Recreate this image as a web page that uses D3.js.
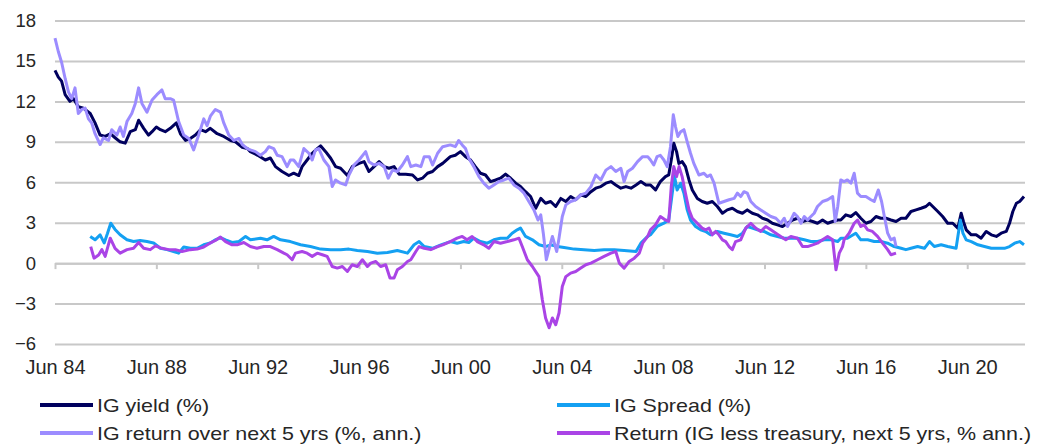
<!DOCTYPE html>
<html>
<head>
<meta charset="utf-8">
<script src="https://cdn.jsdelivr.net/npm/d3@7"></script>
<style>
  body { margin: 0; background: #fff; }
  text { font-family: "Liberation Sans", Arial, sans-serif; fill: #262626; }
</style>
</head>
<body>
<script>
// series, as [decimal year, value %]
var igYield = [[1984.50,14.3],[1984.63,13.8],[1984.76,13.5],[1984.90,12.5],[1985.09,12.0],[1985.23,12.2],[1985.42,11.6],[1985.62,11.5],[1985.89,11.1],[1986.08,10.4],[1986.28,9.5],[1986.48,9.4],[1986.68,9.6],[1986.87,9.3],[1987.07,9.0],[1987.27,8.9],[1987.47,9.75],[1987.67,9.9],[1987.80,10.6],[1988.00,10.0],[1988.19,9.5],[1988.33,9.75],[1988.50,10.1],[1988.66,9.9],[1988.85,9.75],[1989.05,10.0],[1989.29,10.4],[1989.45,9.6],[1989.65,9.1],[1989.84,9.25],[1990.04,9.5],[1990.24,9.9],[1990.44,9.75],[1990.63,10.0],[1990.90,9.6],[1991.16,9.4],[1991.43,9.1],[1991.62,9.0],[1991.89,8.6],[1992.09,8.5],
  [1992.21,8.27],[1992.50,8.0],[1992.80,7.65],[1993.00,7.8],[1993.20,7.16],[1993.46,6.8],[1993.73,6.5],[1993.92,6.67],[1994.12,6.5],[1994.25,7.16],[1994.45,7.65],[1994.65,8.15],[1994.85,8.5],[1994.98,8.7],[1995.18,8.27],[1995.38,7.78],[1995.57,7.16],[1995.77,7.04],[1996.04,6.5],[1996.23,7.16],[1996.50,7.4],[1996.70,7.53],[1996.89,6.8],[1997.09,7.16],[1997.29,7.53],[1997.49,7.16],[1997.68,7.04],[1997.88,7.16],[1998.08,6.6],[1998.34,6.6],[1998.61,6.54],[1998.81,6.17],[1999.00,6.3],[1999.20,6.67],[1999.40,6.8],[1999.60,7.16],[1999.80,7.4],
  [2000.10,7.9],[2000.30,8.0],[2000.50,8.27],[2000.70,7.9],[2000.90,7.65],[2001.09,7.16],[2001.29,6.67],[2001.49,6.54],[2001.69,6.05],[2001.89,6.17],[2002.08,6.3],[2002.28,6.6],[2002.48,6.3],[2002.68,5.93],[2002.87,5.68],[2003.07,5.3],[2003.27,4.94],[2003.47,4.07],[2003.67,4.8],[2003.86,4.44],[2004.06,4.57],[2004.26,4.2],[2004.46,4.8],[2004.66,4.57],[2004.85,4.94],[2005.05,4.7],[2005.25,5.06],[2005.45,4.94],[2005.65,5.3],[2005.84,5.56],[2006.04,5.68],[2006.24,5.93],[2006.44,6.05],[2006.63,5.8],[2006.83,5.56],[2007.03,5.68],[2007.23,5.56],[2007.43,5.8],[2007.62,6.05],[2007.82,5.8],
  [2008.00,5.8],[2008.20,5.43],[2008.39,6.05],[2008.59,6.42],[2008.72,6.54],[2008.82,7.65],[2008.92,8.9],[2009.03,8.27],[2009.12,7.4],[2009.25,7.53],[2009.38,7.16],[2009.52,6.17],[2009.65,5.43],[2009.85,4.8],[2010.04,4.57],[2010.24,4.44],[2010.44,4.57],[2010.64,4.2],[2010.84,3.7],[2011.03,3.95],[2011.23,4.07],[2011.43,3.83],[2011.63,3.7],[2011.82,3.95],[2012.02,3.7],[2012.22,3.58],[2012.42,3.33],[2012.62,3.2],[2012.81,2.96],[2013.01,2.84],[2013.21,2.72],[2013.41,2.96],[2013.61,3.2],[2013.80,3.33],[2014.00,3.09],[2014.20,3.2],[2014.40,3.09],[2014.59,2.96],[2014.79,3.2],[2014.99,2.96],[2015.19,3.09],[2015.39,3.2],
  [2015.51,3.2],[2015.71,3.58],[2015.91,3.46],[2016.10,3.75],[2016.30,3.33],[2016.50,2.96],[2016.70,3.09],[2016.90,3.46],[2017.09,3.33],[2017.29,3.33],[2017.49,3.2],[2017.69,3.09],[2017.89,3.33],[2018.08,3.33],[2018.28,3.83],[2018.48,3.95],[2018.68,4.07],[2018.87,4.2],[2019.01,4.44],[2019.14,4.2],[2019.34,3.83],[2019.53,3.46],[2019.73,2.96],[2019.93,2.96],[2020.13,2.6],[2020.26,3.7],[2020.35,3.09],[2020.46,2.47],[2020.66,2.1],[2020.85,2.1],[2021.05,1.85],[2021.25,2.35],[2021.45,2.1],[2021.65,1.98],[2021.84,2.22],[2022.04,2.35],[2022.17,2.96],[2022.30,3.83],[2022.44,4.44],[2022.57,4.57],[2022.63,4.7],[2022.74,4.94]];

var igSpread = [[1985.89,1.98],[1986.08,1.73],[1986.28,2.1],[1986.44,1.5],[1986.57,2.2],[1986.70,2.96],[1986.87,2.5],[1987.07,2.1],[1987.34,1.73],[1987.60,1.6],[1987.86,1.68],[1988.13,1.6],[1988.39,1.5],[1988.66,1.1],[1988.92,1.0],[1989.18,0.86],[1989.38,0.74],[1989.58,1.2],[1989.84,1.1],[1990.11,1.1],[1990.37,1.36],[1990.63,1.5],[1990.83,1.73],[1991.03,1.9],[1991.23,1.73],[1991.49,1.53],[1991.76,1.6],[1992.02,1.98],
  [1992.21,1.73],[1992.61,1.85],[1992.87,1.73],[1993.13,1.98],[1993.40,1.73],[1993.79,1.6],[1994.19,1.36],[1994.58,1.23],[1994.98,1.04],[1995.38,1.0],[1995.77,1.0],[1996.10,1.04],[1996.43,0.94],[1996.83,0.86],[1997.22,0.74],[1997.62,0.79],[1998.01,0.94],[1998.41,0.74],[1998.67,1.36],[1998.87,1.6],[1999.07,1.23],[1999.40,1.1],[1999.73,1.36],
  [2000.10,1.6],[2000.37,1.48],[2000.63,1.6],[2000.83,1.53],[2001.03,1.85],[2001.29,1.6],[2001.56,1.48],[2001.82,1.73],[2002.08,1.85],[2002.35,1.85],[2002.54,2.22],[2002.74,2.47],[2002.87,2.6],[2003.07,1.98],[2003.34,1.73],[2003.60,1.36],[2003.86,1.23],[2004.06,1.36],[2004.33,1.23],[2004.59,1.16],[2004.99,1.04],[2005.38,1.0],[2005.78,0.94],[2006.17,1.0],[2006.57,1.0],[2006.96,0.94],[2007.43,0.86],[2007.62,1.48],[2007.89,1.98],
  [2008.00,2.1],[2008.26,2.72],[2008.53,2.96],[2008.72,3.2],[2008.86,5.19],[2008.95,6.42],[2009.05,5.43],[2009.19,5.93],[2009.32,5.19],[2009.45,3.95],[2009.58,3.2],[2009.78,2.72],[2009.98,2.47],[2010.18,2.35],[2010.37,2.1],[2010.64,2.35],[2010.90,2.22],[2011.16,2.1],[2011.43,1.98],[2011.63,2.22],[2011.82,2.72],[2012.02,2.6],[2012.22,2.47],[2012.48,2.35],[2012.75,2.1],[2013.01,1.98],[2013.28,1.85],[2013.54,1.85],[2013.80,1.85],[2014.07,1.73],[2014.33,1.6],[2014.59,1.6],[2014.86,1.73],[2015.12,1.73],[2015.39,1.6],
  [2015.51,1.85],[2015.77,1.85],[2016.10,2.22],[2016.30,1.73],[2016.57,1.73],[2016.83,1.6],[2017.09,1.6],[2017.36,1.48],[2017.62,1.23],[2017.89,1.1],[2018.08,1.0],[2018.28,1.1],[2018.54,1.23],[2018.81,1.1],[2019.01,1.6],[2019.20,1.23],[2019.47,1.36],[2019.73,1.23],[2020.06,1.1],[2020.23,3.2],[2020.33,2.22],[2020.46,1.73],[2020.66,1.6],[2020.92,1.36],[2021.18,1.23],[2021.45,1.1],[2021.71,1.1],[2021.97,1.1],[2022.17,1.23],[2022.37,1.48],[2022.57,1.6],[2022.74,1.36]];

var igReturn5y = [[1984.50,16.7],[1984.63,15.7],[1984.76,14.9],[1984.90,13.7],[1985.03,12.7],[1985.16,12.2],[1985.29,13.0],[1985.42,11.1],[1985.56,11.4],[1985.69,11.5],[1985.82,10.7],[1985.95,10.4],[1986.08,9.6],[1986.28,8.8],[1986.41,9.3],[1986.61,9.1],[1986.74,9.9],[1986.94,9.5],[1987.07,10.1],[1987.20,9.4],[1987.34,10.5],[1987.53,11.1],[1987.67,11.85],[1987.80,13.0],[1987.93,11.85],[1988.13,11.2],[1988.33,12.1],[1988.52,12.5],[1988.72,12.85],[1988.85,12.2],[1989.05,12.2],[1989.18,12.1],[1989.38,10.5],[1989.58,9.5],[1989.78,9.25],[1989.97,8.4],[1990.17,9.5],[1990.37,10.7],[1990.50,10.2],[1990.63,10.9],[1990.83,11.4],[1991.03,11.2],[1991.16,10.4],[1991.36,9.5],[1991.56,9.1],[1991.76,9.25],[1991.89,8.8],[1992.09,8.5],
  [1992.21,8.4],[1992.41,8.27],[1992.61,8.0],[1992.80,8.27],[1992.94,8.64],[1993.13,8.5],[1993.27,8.0],[1993.46,7.9],[1993.66,7.16],[1993.79,7.65],[1993.92,7.65],[1994.12,7.16],[1994.32,8.5],[1994.52,8.15],[1994.65,7.65],[1994.78,8.4],[1994.91,8.5],[1995.11,7.65],[1995.31,7.16],[1995.44,5.68],[1995.57,6.17],[1995.77,5.93],[1995.97,5.8],[1996.10,6.54],[1996.30,7.28],[1996.50,7.65],[1996.76,8.27],[1996.89,7.53],[1997.09,7.28],[1997.29,7.4],[1997.49,7.16],[1997.65,6.3],[1997.82,6.9],[1998.01,6.8],[1998.21,7.28],[1998.41,7.9],[1998.54,7.16],[1998.74,7.28],[1998.94,7.16],[1999.07,7.9],[1999.27,7.9],[1999.40,7.28],[1999.60,8.15],[1999.80,8.64],
  [2000.10,8.77],[2000.30,8.64],[2000.43,9.1],[2000.57,8.77],[2000.70,8.5],[2000.83,7.78],[2001.03,7.16],[2001.23,6.42],[2001.42,5.93],[2001.62,5.56],[2001.82,5.8],[2002.02,6.05],[2002.22,6.17],[2002.41,6.3],[2002.61,5.8],[2002.81,5.56],[2003.01,5.19],[2003.20,4.57],[2003.40,3.95],[2003.56,3.2],[2003.67,3.58],[2003.77,2.22],[2003.89,0.25],[2004.02,1.23],[2004.13,1.98],[2004.30,0.86],[2004.39,1.85],[2004.52,3.46],[2004.66,4.32],[2004.85,4.57],[2005.05,4.7],[2005.25,5.06],[2005.45,5.19],[2005.65,5.68],[2005.84,6.54],[2006.04,6.17],[2006.24,6.9],[2006.44,7.16],[2006.63,6.8],[2006.83,7.04],[2006.96,6.05],[2007.10,6.8],[2007.29,7.04],[2007.49,7.53],[2007.69,7.9],[2007.89,7.9],
  [2008.00,7.65],[2008.13,7.28],[2008.26,7.9],[2008.39,8.0],[2008.53,7.65],[2008.66,7.16],[2008.79,8.64],[2008.90,11.0],[2008.99,10.1],[2009.08,9.4],[2009.19,9.75],[2009.32,9.9],[2009.45,9.0],[2009.58,8.15],[2009.71,7.4],[2009.91,6.54],[2010.11,6.67],[2010.24,6.42],[2010.37,6.54],[2010.51,5.93],[2010.70,4.44],[2010.90,4.57],[2011.10,4.7],[2011.30,4.8],[2011.43,5.19],[2011.56,4.94],[2011.69,5.3],[2011.82,5.19],[2011.96,4.57],[2012.15,4.2],[2012.35,3.95],[2012.55,3.7],[2012.75,3.46],[2012.95,3.33],[2013.14,2.96],[2013.28,3.33],[2013.41,2.72],[2013.54,3.2],[2013.67,3.7],[2013.80,3.46],[2013.94,2.96],[2014.07,3.46],[2014.20,3.2],[2014.33,3.46],[2014.46,3.7],[2014.59,4.2],[2014.79,4.57],[2014.99,4.7],[2015.19,4.94],[2015.29,3.09],[2015.39,4.2],
  [2015.51,6.17],[2015.64,6.05],[2015.77,6.17],[2015.91,5.93],[2016.04,6.67],[2016.17,5.19],[2016.30,4.94],[2016.50,4.94],[2016.70,4.7],[2016.83,4.57],[2016.99,5.43],[2017.12,4.57],[2017.23,3.46],[2017.36,2.22],[2017.49,1.73],[2017.62,1.85],[2017.69,1.23]];

var igLessTsy = [[1985.91,1.23],[1986.04,0.37],[1986.22,0.6],[1986.35,1.0],[1986.48,0.5],[1986.68,1.85],[1986.87,1.1],[1987.07,0.74],[1987.34,1.0],[1987.60,1.1],[1987.80,1.53],[1988.00,1.1],[1988.26,1.0],[1988.46,1.28],[1988.72,1.1],[1988.99,1.0],[1989.25,1.0],[1989.51,0.86],[1989.84,1.0],[1990.11,1.04],[1990.37,1.2],[1990.63,1.5],[1990.83,1.68],[1991.03,1.93],[1991.23,1.6],[1991.49,1.36],[1991.69,1.36],[1991.95,1.53],
  [1992.21,1.23],[1992.47,1.1],[1992.74,1.23],[1993.00,1.23],[1993.27,1.0],[1993.53,0.74],[1993.66,0.62],[1993.86,0.25],[1993.99,0.74],[1994.25,0.86],[1994.45,0.74],[1994.65,0.5],[1994.85,0.74],[1995.05,0.62],[1995.24,0.5],[1995.44,-0.25],[1995.64,-0.37],[1995.84,-0.25],[1996.04,-0.62],[1996.23,-0.12],[1996.43,-0.25],[1996.63,0.25],[1996.83,-0.25],[1996.96,0],[1997.16,0.12],[1997.35,-0.25],[1997.55,-0.12],[1997.72,-1.1],[1997.88,-1.1],[1998.01,-0.5],[1998.21,-0.25],[1998.41,0.12],[1998.54,0.25],[1998.74,0.86],[1998.87,1.23],[1999.07,1.1],[1999.33,1.0],[1999.60,1.23],[1999.80,1.36],
  [2000.10,1.6],[2000.37,1.85],[2000.57,1.98],[2000.76,1.73],[2000.96,1.98],[2001.16,1.6],[2001.42,1.36],[2001.62,1.1],[2001.82,1.6],[2002.08,1.48],[2002.35,1.6],[2002.61,1.73],[2002.81,1.85],[2002.94,1.23],[2003.14,0.25],[2003.34,-0.25],[2003.60,-1.0],[2003.73,-2.7],[2003.86,-4.07],[2004.00,-4.8],[2004.13,-4.07],[2004.26,-4.57],[2004.39,-3.7],[2004.52,-1.73],[2004.66,-1.0],[2004.85,-0.74],[2005.05,-0.62],[2005.25,-0.37],[2005.45,-0.12],[2005.65,0],[2005.91,0.25],[2006.17,0.5],[2006.44,0.74],[2006.63,0.86],[2006.77,0],[2006.96,-0.37],[2007.16,0.12],[2007.36,0.37],[2007.56,0.74],[2007.69,1.48],[2007.89,1.98],
  [2008.00,2.47],[2008.20,2.84],[2008.39,3.46],[2008.59,3.2],[2008.72,3.09],[2008.82,5.68],[2008.92,7.16],[2009.03,6.42],[2009.13,7.16],[2009.25,6.42],[2009.38,5.19],[2009.52,3.95],[2009.65,3.33],[2009.78,3.09],[2009.91,2.84],[2010.04,2.6],[2010.18,2.47],[2010.31,2.6],[2010.44,2.1],[2010.57,2.35],[2010.70,2.1],[2010.84,1.73],[2010.97,1.6],[2011.10,1.23],[2011.23,1.0],[2011.36,1.6],[2011.56,1.73],[2011.76,2.6],[2011.96,2.96],[2012.15,2.6],[2012.35,2.35],[2012.55,2.72],[2012.75,2.47],[2012.95,2.22],[2013.14,1.98],[2013.34,1.73],[2013.54,1.98],[2013.80,1.85],[2014.00,1.23],[2014.20,1.23],[2014.40,1.36],[2014.59,1.48],[2014.79,1.73],[2014.99,1.98],[2015.19,1.73],[2015.32,-0.5],[2015.45,0.74],[2015.58,1.23],
  [2015.64,1.73],[2015.84,2.22],[2016.04,2.96],[2016.17,3.2],[2016.30,2.72],[2016.43,2.84],[2016.57,2.47],[2016.76,2.35],[2016.96,1.98],[2017.16,1.48],[2017.36,1.0],[2017.49,0.62],[2017.69,0.74]];

var seriesNames = ["IG yield (%)", "IG Spread (%)", "IG return over next 5 yrs (%, ann.)", "Return (IG less treasury, next 5 yrs, % ann.)"];
var seriesColors = ["#00005e", "#14a0f2", "#9c8cff", "#aa44e6"];

var xTicks = [1984.5, 1988.5, 1992.5, 1996.5, 2000.5, 2004.5, 2008.5, 2012.5, 2016.5, 2020.5];
var xTickLabels = ["Jun 84", "Jun 88", "Jun 92", "Jun 96", "Jun 00", "Jun 04", "Jun 08", "Jun 12", "Jun 16", "Jun 20"];
var yTicks = [-6, -3, 0, 3, 6, 9, 12, 15, 18];

var width = 1042, height = 448;
var plot = { left: 55, right: 1025, top: 20.5, bottom: 344 };

var xScale = d3.scaleLinear().domain([1984.5, 2022.78]).range([plot.left, plot.right]);
var yScale = d3.scaleLinear().domain([-6, 18]).range([plot.bottom, plot.top]);

var svg = d3.select("body").append("svg")
    .attr("width", width)
    .attr("height", height);

// y gridlines + labels
var yAxis = d3.axisLeft(yScale)
    .tickValues(yTicks)
    .tickSize(-(plot.right - plot.left))
    .tickPadding(19)
    .tickFormat(d3.format("d"));

var gy = svg.append("g")
    .attr("transform", "translate(" + plot.left + ",0)")
    .call(yAxis);
gy.select(".domain").remove();
gy.selectAll(".tick line").attr("stroke", "#c8c8c8").attr("stroke-width", 2);
gy.selectAll(".tick text")
    .style("font-size", "18.5px")
    .style("font-family", "'Liberation Sans', Arial, sans-serif")
    .attr("fill", "#262626");

// x axis on the zero line, labels at the bottom
var xAxis = d3.axisBottom(xScale)
    .tickValues(xTicks)
    .tickSize(6)
    .tickSizeOuter(0)
    .tickFormat(function (d, i) { return xTickLabels[i]; });

var gx = svg.append("g")
    .attr("transform", "translate(0," + yScale(0) + ")")
    .call(xAxis);
gx.select(".domain").attr("stroke", "#c8c8c8").attr("stroke-width", 2);
gx.selectAll(".tick line").attr("stroke", "#c8c8c8").attr("stroke-width", 2);
gx.selectAll(".tick text")
    .attr("y", plot.bottom - yScale(0) + 16)
    .attr("dy", "0.71em")
    .style("font-size", "20px")
    .style("font-family", "'Liberation Sans', Arial, sans-serif")
    .attr("fill", "#262626");

// lines
var line = d3.line()
    .x(function (d) { return xScale(d[0]); })
    .y(function (d) { return yScale(d[1]); });

var allSeries = [igYield, igSpread, igReturn5y, igLessTsy];

svg.append("g").selectAll("path.series")
    .data(allSeries)
    .enter().append("path")
    .attr("class", "series")
    .attr("d", line)
    .attr("fill", "none")
    .attr("stroke", function (d, i) { return seriesColors[i]; })
    .attr("stroke-width", 3)
    .attr("stroke-linejoin", "round");

// legend, two columns x two rows
var legendSlots = [[40, 405], [557, 405], [40, 433], [557, 433]];

var legend = svg.append("g").selectAll("g.legend")
    .data(seriesNames)
    .enter().append("g")
    .attr("class", "legend")
    .attr("transform", function (d, i) { return "translate(" + legendSlots[i][0] + "," + legendSlots[i][1] + ")"; });

legend.append("line")
    .attr("x1", 0).attr("x2", 53)
    .attr("y1", 0).attr("y2", 0)
    .attr("stroke", function (d, i) { return seriesColors[i]; })
    .attr("stroke-width", 4);

legend.append("text")
    .attr("transform", "translate(57,0) scale(1.13,1)")
    .attr("dy", "0.35em")
    .style("font-size", "19px")
    .text(function (d) { return d; });
</script>
</body>
</html>
